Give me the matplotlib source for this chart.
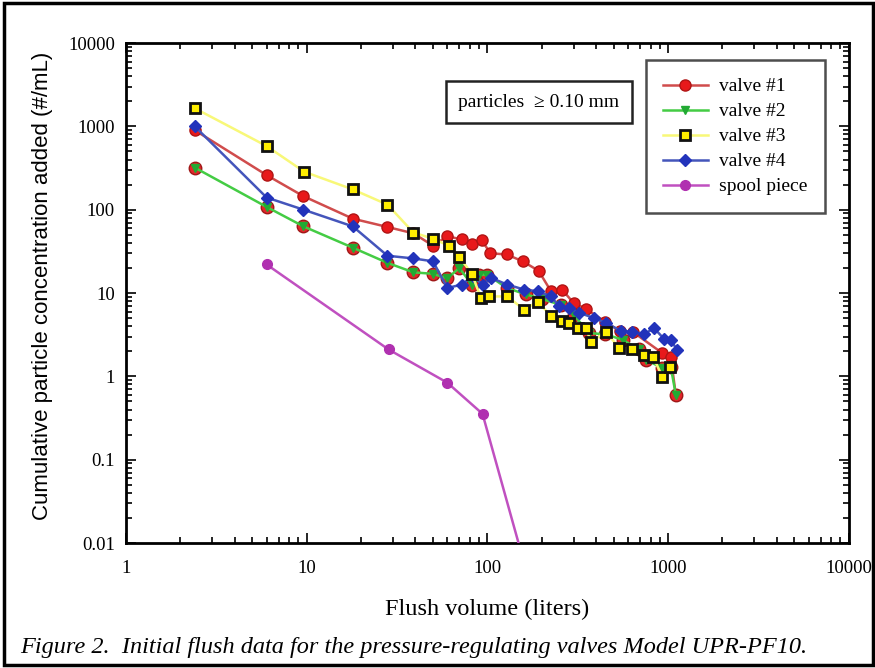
import numpy as np
import matplotlib
matplotlib.use('Agg')
import matplotlib.pyplot as plt
from matplotlib.ticker import LogLocator, FuncFormatter, NullFormatter
from matplotlib.patches import Rectangle

# 读图得到的数据 (flush volume, liters  /  concentration, #/mL)
v1_x = [2.4, 6, 9.6, 18, 28, 39, 50, 60, 72, 82, 93, 104, 128, 157, 192, 225, 259, 300, 350, 450, 540, 640, 930, 1035, 1104]
v1_y = [900, 260, 145, 78, 62, 52, 37, 48, 44, 39, 43, 30, 29, 24, 18.5, 10.5, 11, 7.6, 6.5, 4.5, 3.5, 3.4, 1.9, 1.7, 0.6]

v2_x = [2.4, 6, 9.6, 18, 28, 39, 50, 60, 70, 82, 90, 100, 128, 164, 200, 255, 300, 366, 450, 560, 692, 753, 930, 1035, 1104]
v2_y = [320, 108, 63, 35, 23, 17.7, 17, 15, 20, 12.6, 16.6, 16.6, 11.5, 9.6, 8.5, 7.2, 5.5, 3.3, 3.2, 2.75, 2.1, 1.58, 1.26, 1.3, 0.6]

v3_x = [2.4, 6, 9.7, 18, 28, 39, 50, 61, 70, 82, 92, 102, 129, 160, 190, 225, 259, 284, 319, 351, 374, 453, 536, 635, 737, 830, 930, 1020]
v3_y = [1650, 580, 285, 175, 115, 53, 45, 37, 27, 17, 8.8, 9.1, 9.1, 6.3, 7.9, 5.3, 4.6, 4.4, 3.8, 3.8, 2.6, 3.4, 2.2, 2.1, 1.8, 1.69, 0.98, 1.3]

v4_x = [2.4, 6, 9.6, 18, 28, 39, 50, 60, 72, 83, 94, 105, 129, 160, 190, 225, 250, 284, 322, 390, 453, 548, 635, 737, 837, 951, 1035, 1125]
v4_y = [1000, 140, 100, 63, 28, 26, 24, 11.5, 12.6, 16, 12.6, 15.2, 12.6, 11, 10.5, 9.1, 6.9, 6.6, 5.8, 5.0, 4.4, 3.5, 3.4, 3.2, 3.8, 2.8, 2.75, 2.05]

spool_x = [6, 28.4, 60, 94, 200]
spool_y = [22, 2.1, 0.84, 0.355, 0.001]

serif = ['Liberation Serif', 'DejaVu Serif']

fig = plt.figure(figsize=(8.75, 6.68), dpi=100)
ax = fig.add_axes([0.144, 0.1871, 0.826, 0.7485])

# valve #2 的点后面有红圈
ax.plot(v2_x, v2_y, 'o', color='#e3262a', mec='#a01818', ms=9, zorder=3)
ax.plot(v1_x, v1_y, '-o', color='#d04c4c', mfc='#e8191b', mec='#b01515', ms=8, lw=1.8, label='valve #1', zorder=2)
ax.plot(v2_x, v2_y, '-v', color='#44cc44', mfc='#22aa33', mec='#22aa33', ms=6, lw=1.8, label='valve #2', zorder=4)
ax.plot(v3_x, v3_y, '-s', color='#f8f878', mfc='#ffee00', mec='#111111', mew=2, ms=7, lw=1.8, label='valve #3', zorder=5)
ax.plot(v4_x, v4_y, '-D', color='#4455bb', mfc='#2233bb', mec='#2233bb', ms=6, lw=1.8, label='valve #4', zorder=4)
ax.plot(spool_x, spool_y, '-o', color='#c050c0', mfc='#b030b0', mec='#b030b0', ms=7, lw=1.8, label='spool piece', zorder=3)

ax.set_xscale('log')
ax.set_yscale('log')
ax.set_xlim(1, 10000)
ax.set_ylim(0.01, 10000)

fmt = FuncFormatter(lambda v, p: '%g' % v)
for a in (ax.xaxis, ax.yaxis):
    a.set_major_locator(LogLocator(base=10, numticks=10))
    a.set_minor_locator(LogLocator(base=10, subs=np.arange(2, 10), numticks=10))
    a.set_major_formatter(fmt)
    a.set_minor_formatter(NullFormatter())

ax.tick_params(which='both', direction='in', top=True, right=True, width=1.2)
ax.tick_params(which='major', length=7, labelsize=13.5)
ax.tick_params(axis='x', which='major', pad=12)
ax.tick_params(axis='y', which='major', pad=8)
ax.tick_params(which='minor', length=4)
for lab in ax.get_xticklabels() + ax.get_yticklabels():
    lab.set_fontfamily(serif)
for s in ax.spines.values():
    s.set_linewidth(2)

ax.set_xlabel('Flush volume (liters)', fontsize=17.5, family=serif, labelpad=16)
ax.set_ylabel('Cumulative particle concentration added (#/mL)', fontsize=16,
              family=['Liberation Sans', 'DejaVu Sans'])
ax.yaxis.set_label_coords(-0.101, 0.515)

leg = ax.legend(loc='upper right', bbox_to_anchor=(0.981, 0.985), prop={'family': serif, 'size': 14},
                frameon=True, fancybox=False, edgecolor='#222222', handlelength=2.3,
                borderpad=0.9, labelspacing=0.38, handletextpad=0.6)
leg.get_frame().set_linewidth(1.8)

ax.text(0.46, 0.882, 'particles  \u2265 0.10 mm', transform=ax.transAxes, fontsize=14, family=serif,
        ha='left', va='center',
        bbox=dict(boxstyle='square,pad=0.65', fc='white', ec='#222222', lw=1.8))

fig.text(0.023, 0.031, 'Figure 2.  Initial flush data for the pressure-regulating valves Model UPR-PF10.',
         fontsize=17.5, style='italic', family=serif, ha='left', va='center')

fig.patches.append(Rectangle((0.004, 0.004), 0.994, 0.992, transform=fig.transFigure,
                             fill=False, ec='black', lw=2.5))

fig.savefig('out.png', dpi=100)
